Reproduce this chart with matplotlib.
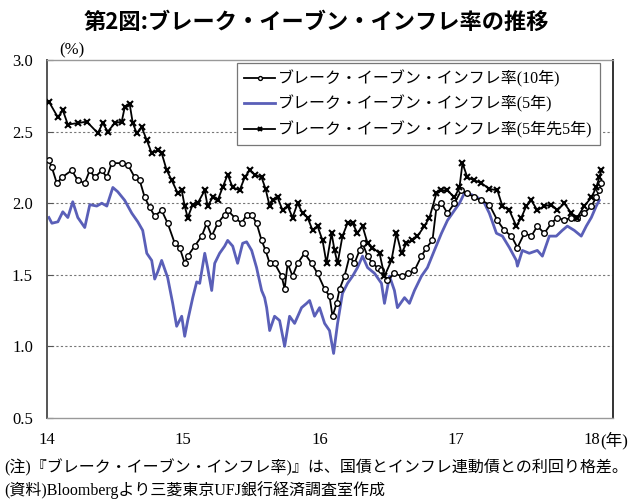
import matplotlib
matplotlib.use("Agg")
import matplotlib.pyplot as plt

# ---- data (decimal year, %) ----
t_5y5y = [14.015, 14.081, 14.117, 14.154, 14.227, 14.293, 14.374, 14.410, 14.447, 14.498,
          14.549, 14.571, 14.608, 14.630, 14.659, 14.696, 14.733, 14.769, 14.813, 14.842,
          14.879, 14.916, 14.960, 14.989, 15.011, 15.033, 15.070, 15.106, 15.158, 15.179,
          15.216, 15.253, 15.289, 15.326, 15.363, 15.414, 15.451, 15.487, 15.524, 15.575,
          15.604, 15.634, 15.656, 15.692, 15.729, 15.766, 15.802, 15.839, 15.875, 15.912,
          15.949, 15.985, 16.022, 16.051, 16.088, 16.110, 16.132, 16.168, 16.205, 16.242,
          16.278, 16.315, 16.352, 16.388, 16.440, 16.476, 16.527, 16.564, 16.601, 16.637,
          16.681, 16.718, 16.769, 16.806, 16.857, 16.894, 16.938, 16.989, 17.026, 17.048,
          17.084, 17.136, 17.187, 17.245, 17.304, 17.341, 17.392, 17.443, 17.480, 17.516,
          17.553, 17.597, 17.648, 17.700, 17.744, 17.795, 17.846, 17.890, 17.941, 17.993,
          18.029, 18.051, 18.066]
v_5y5y = [2.71, 2.60, 2.65, 2.55, 2.56, 2.57, 2.49, 2.56, 2.50, 2.56,
          2.57, 2.67, 2.69, 2.56, 2.49, 2.53, 2.44, 2.35, 2.37, 2.35,
          2.23, 2.16, 2.07, 2.09, 1.98, 1.90, 1.99, 2.00, 2.09, 1.98,
          2.04, 2.02, 2.11, 2.20, 2.11, 2.09, 2.18, 2.23, 2.20, 2.18,
          2.10, 1.98, 2.02, 2.04, 1.95, 1.98, 1.90, 2.00, 1.93, 1.90,
          1.81, 1.84, 1.74, 1.58, 1.79, 1.67, 1.58, 1.77, 1.86, 1.86,
          1.79, 1.84, 1.72, 1.69, 1.65, 1.49, 1.60, 1.79, 1.65, 1.72,
          1.74, 1.77, 1.84, 1.90, 2.07, 2.09, 2.09, 2.04, 2.11, 2.28,
          2.18, 2.16, 2.14, 2.10, 2.09, 1.98, 1.95, 1.84, 1.90, 1.98,
          2.02, 1.95, 1.98, 1.99, 1.95, 2.00, 1.93, 1.90, 1.98, 2.04,
          2.11, 2.18, 2.23]

t_10y = [14.015, 14.037, 14.073, 14.110, 14.183, 14.227, 14.278, 14.315, 14.352, 14.403,
         14.440, 14.476, 14.549, 14.593, 14.645, 14.681, 14.718, 14.755, 14.791, 14.842,
         14.886, 14.938, 14.974, 15.011, 15.033, 15.084, 15.136, 15.172, 15.209, 15.253,
         15.304, 15.326, 15.377, 15.429, 15.465, 15.502, 15.538, 15.575, 15.604, 15.634,
         15.670, 15.722, 15.744, 15.766, 15.802, 15.839, 15.890, 15.941, 15.985, 16.037,
         16.073, 16.095, 16.125, 16.147, 16.183, 16.220, 16.256, 16.293, 16.315, 16.352,
         16.388, 16.425, 16.454, 16.498, 16.549, 16.601, 16.645, 16.696, 16.747, 16.784,
         16.828, 16.857, 16.894, 16.938, 16.989, 17.040, 17.084, 17.136, 17.187, 17.245,
         17.304, 17.355, 17.407, 17.451, 17.502, 17.553, 17.597, 17.648, 17.700, 17.744,
         17.795, 17.846, 17.890, 17.941, 17.993, 18.029, 18.051, 18.066]
v_10y = [2.30, 2.25, 2.14, 2.18, 2.23, 2.16, 2.14, 2.23, 2.18, 2.23,
         2.18, 2.28, 2.28, 2.27, 2.18, 2.16, 2.04, 1.97, 1.91, 1.95,
         1.86, 1.72, 1.69, 1.58, 1.63, 1.70, 1.77, 1.86, 1.77, 1.86,
         1.92, 1.95, 1.90, 1.86, 1.92, 1.92, 1.86, 1.74, 1.67, 1.58,
         1.58, 1.49, 1.40, 1.58, 1.49, 1.58, 1.65, 1.58, 1.51, 1.40,
         1.35, 1.21, 1.30, 1.40, 1.49, 1.63, 1.58, 1.67, 1.72, 1.63,
         1.58, 1.55, 1.53, 1.46, 1.51, 1.49, 1.51, 1.53, 1.63, 1.69,
         1.74, 1.97, 2.00, 1.93, 2.00, 2.09, 2.07, 2.04, 2.02, 1.99,
         1.88, 1.81, 1.77, 1.69, 1.79, 1.77, 1.84, 1.79, 1.86, 1.90,
         1.88, 1.90, 1.90, 1.93, 1.98, 2.04, 2.09, 2.14]

t_5y = [14.015, 14.037, 14.081, 14.117, 14.154, 14.190, 14.227, 14.278, 14.315, 14.366,
        14.403, 14.440, 14.484, 14.520, 14.571, 14.623, 14.667, 14.703, 14.733, 14.769,
        14.791, 14.813, 14.842, 14.886, 14.923, 14.952, 14.989, 15.011, 15.033, 15.070,
        15.099, 15.121, 15.158, 15.179, 15.209, 15.231, 15.267, 15.304, 15.326, 15.363,
        15.399, 15.436, 15.465, 15.502, 15.538, 15.575, 15.597, 15.612, 15.634, 15.670,
        15.707, 15.744, 15.780, 15.817, 15.868, 15.905, 15.927, 15.963, 16.000, 16.037,
        16.073, 16.103, 16.132, 16.168, 16.205, 16.242, 16.278, 16.315, 16.352, 16.403,
        16.454, 16.476, 16.513, 16.549, 16.571, 16.623, 16.659, 16.696, 16.747, 16.791,
        16.842, 16.894, 16.938, 16.989, 17.026, 17.062, 17.114, 17.158, 17.209, 17.245,
        17.297, 17.341, 17.392, 17.443, 17.451, 17.487, 17.538, 17.597, 17.634, 17.685,
        17.736, 17.780, 17.817, 17.868, 17.919, 17.956, 17.993, 18.029, 18.051]
v_5y = [1.90, 1.86, 1.87, 1.94, 1.90, 2.01, 1.90, 1.83, 1.99, 1.98,
        2.00, 1.98, 2.11, 2.08, 2.02, 1.93, 1.87, 1.81, 1.65, 1.60,
        1.47, 1.52, 1.60, 1.48, 1.30, 1.14, 1.21, 1.07, 1.18, 1.34,
        1.45, 1.44, 1.65, 1.55, 1.39, 1.58, 1.65, 1.70, 1.74, 1.70,
        1.58, 1.72, 1.73, 1.67, 1.55, 1.39, 1.34, 1.27, 1.11, 1.21,
        1.18, 1.00, 1.21, 1.16, 1.27, 1.30, 1.32, 1.21, 1.27, 1.16,
        1.11, 0.95, 1.16, 1.37, 1.44, 1.49, 1.55, 1.63, 1.55, 1.51,
        1.44, 1.30, 1.49, 1.39, 1.27, 1.34, 1.30, 1.39, 1.49, 1.55,
        1.67, 1.79, 1.88, 1.95, 2.00, 2.07, 2.06, 2.04, 2.00, 1.93,
        1.79, 1.77, 1.69, 1.60, 1.56, 1.67, 1.65, 1.67, 1.63, 1.77,
        1.77, 1.81, 1.84, 1.81, 1.77, 1.84, 1.90, 1.98, 2.02]

labels = ["ブレーク・イーブン・インフレ率(10年)",
          "ブレーク・イーブン・インフレ率(5年)",
          "ブレーク・イーブン・インフレ率(5年先5年)"]
x_ticks = [14, 15, 16, 17, 18]
y_ticks = [0.5, 1.0, 1.5, 2.0, 2.5, 3.0]

JP = ["Noto Sans CJK JP", "DejaVu Sans"]
SERIF_JP = ["Liberation Serif", "Noto Sans CJK JP"]

fig = plt.figure(figsize=(6.33, 5.01), dpi=100)
ax = fig.add_axes([0.074, 0.166, 0.894, 0.714])

ln5, = ax.plot(t_5y, v_5y, color="#5a5fb8", lw=2.0, zorder=2)
ln10, = ax.plot(t_10y, v_10y, color="black", lw=1.3, marker="o", ms=4.0,
                mfc="white", mec="black", mew=1.0, zorder=3)
ln55, = ax.plot(t_5y5y, v_5y5y, color="black", lw=1.3, marker="x", ms=4.2,
                mew=1.5, zorder=4)

ax.set_xlim(14, 18.15)
ax.set_ylim(0.5, 3.0)
ax.set_xticks(x_ticks)
ax.set_yticks(y_ticks)
ax.set_xticklabels([str(x) for x in x_ticks], family=SERIF_JP, fontsize=12)
ax.set_yticklabels([f"{y:.1f}" for y in y_ticks], family=SERIF_JP, fontsize=12)
ax.tick_params(axis="y", direction="in", length=4, pad=10, color="#555555")
ax.tick_params(axis="x", length=0, pad=10)
for yv in y_ticks[1:-1]:
    ax.axhline(yv, color="#777777", lw=0.8, ls=(0, (2, 2)), zorder=1)
for s in ax.spines.values():
    s.set_color("#999999")
    s.set_linewidth(1.0)
ax.spines["left"].set_color("#555555")
ax.spines["left"].set_linewidth(1.4)
ax.spines["right"].set_color("#333333")
ax.spines["right"].set_linewidth(1.4)

leg = ax.legend([ln10, ln5, ln55], labels, loc="upper right",
                bbox_to_anchor=(0.977, 0.992), borderaxespad=0,
                prop={"family": SERIF_JP, "size": 11.5},
                handlelength=1.9, handletextpad=0.2, labelspacing=0.5,
                borderpad=0.45, fancybox=False, framealpha=1, edgecolor="#777777",
                markerscale=0.7)
leg.get_frame().set_linewidth(0.9)

fig.text(0.5, 0.955, "第2図:ブレーク・イーブン・インフレ率の推移", ha="center", va="center",
         family=JP, fontsize=16, fontweight="bold")
fig.text(0.114, 0.9, "(%)", ha="center", va="center", family=SERIF_JP, fontsize=12)
fig.text(0.948, 0.121, "(年)", ha="left", va="center", family=SERIF_JP, fontsize=12)
fig.text(0.006, 0.066, "(注)『ブレーク・イーブン・インフレ率)』は、国債とインフレ連動債との利回り格差。",
         ha="left", va="center", family=SERIF_JP, fontsize=11.5)
fig.text(0.006, 0.022, "(資料)Bloombergより三菱東京UFJ銀行経済調査室作成",
         ha="left", va="center", family=SERIF_JP, fontsize=11.5)

fig.savefig("out.png", dpi=100)
